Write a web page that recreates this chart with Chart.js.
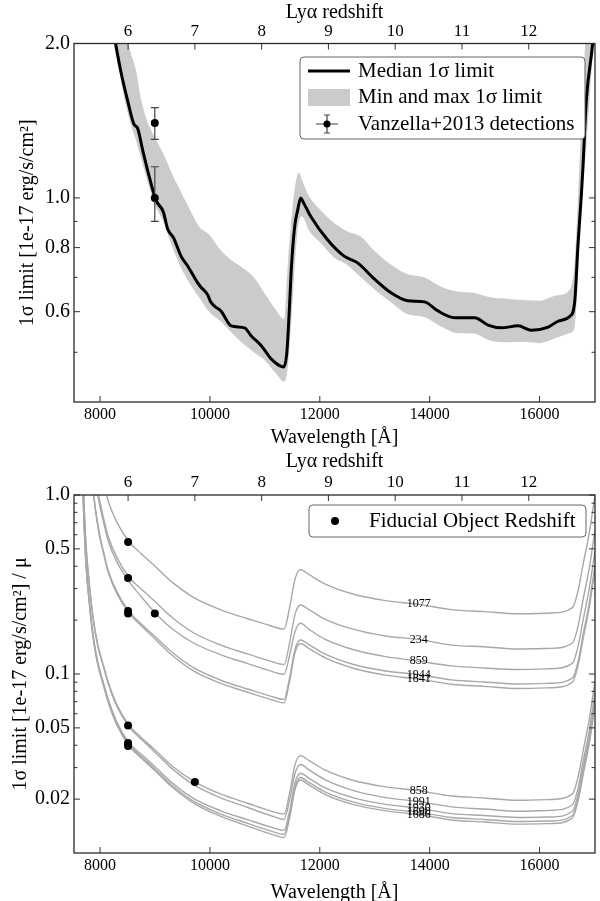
<!DOCTYPE html>
<html>
<head>
<meta charset="utf-8">
<title>Lyα 1σ limits</title>
<script src="https://cdn.jsdelivr.net/npm/chart.js@4.4.1/dist/chart.umd.min.js"></script>
<style>
  html, body { margin: 0; padding: 0; background: #fff; overflow: hidden; }
  .panel { position: absolute; left: 0; width: 600px; }
  #topPanel { top: 0; height: 460px; }
  #botPanel { top: 440px; height: 470px; }
</style>
</head>
<body>
<div class="panel" id="topPanel"><canvas id="limitChart"></canvas></div>
<div class="panel" id="botPanel"><canvas id="lensedChart"></canvas></div>
<script>
const SERIF = '"Liberation Serif", "Times New Roman", serif';
const LYA = 1215.67;
const WAVE_MIN = 7525;
const WAVE_MAX = 17010;
const BAND_COLOR = '#cbcbcb';

// axis ticks
const WAVE_TICKS = [8000, 10000, 12000, 14000, 16000];
const Z_TICKS = [6, 7, 8, 9, 10, 11, 12];
const TOP_Y_TICKS = [0.5, 0.6, 0.7, 0.8, 0.9, 1.0, 2.0];
const TOP_Y_LABELS = ['', '0.6', '', '0.8', '', '1.0', '2.0'];
const BOT_Y_TICKS = [0.02, 0.03, 0.04, 0.05, 0.06, 0.07, 0.08, 0.09, 0.1, 0.2, 0.3, 0.4, 0.5, 0.6, 0.7, 0.8, 0.9, 1.0];
const BOT_Y_LABELS = ['0.02', '', '', '0.05', '', '', '', '', '0.1', '', '', '', '0.5', '', '', '', '', '1.0'];

// top panel: median 1-sigma limit
const MED_WAVE = [8250, 8290, 8380, 8500, 8620, 8680, 8775, 8895, 9017, 9150, 9230, 9340, 9473, 9600, 9777, 9826, 9960, 10010, 10082, 10200,
  10387, 10630, 10752, 10935, 11117, 11250, 11340, 11400, 11450, 11482, 11543, 11600, 11653, 11700, 11836, 12140, 12444, 12688, 12993, 13297,
  13601, 13906, 14149, 14454, 14820, 15064, 15306, 15610, 15854, 16158, 16341, 16554, 16639, 16700, 16761, 16791, 16852, 16968, 17000];
const MED_VAL = [2.10, 1.98, 1.76, 1.55, 1.39, 1.37, 1.24, 1.10, 0.99, 0.94, 0.87, 0.835, 0.77, 0.735, 0.683, 0.672, 0.647, 0.628, 0.615, 0.602,
  0.563, 0.558, 0.538, 0.515, 0.485, 0.472, 0.468, 0.50, 0.62, 0.73, 0.88, 0.95, 1.0, 0.98, 0.92, 0.829, 0.77, 0.747, 0.695, 0.653,
  0.63, 0.627, 0.602, 0.584, 0.584, 0.565, 0.558, 0.563, 0.552, 0.560, 0.575, 0.588, 0.625, 0.81, 1.01, 1.15, 1.55, 2.0, 2.2];

// top panel: min / max band
const BAND_WAVE = [8250, 8350, 8450, 8550, 8650, 8750, 8850, 9000, 9150, 9300, 9450, 9600, 9800, 10000, 10200, 10400, 10600, 10800, 11000, 11200,
  11350, 11420, 11500, 11560, 11620, 11680, 11800, 12000, 12250, 12500, 12750, 13000, 13300, 13600, 13900, 14200, 14500, 14800, 15100, 15400, 15700,
  16000, 16300, 16550, 16640, 16700, 16760, 16820, 16900, 16980];
const BAND_LOW = [1.98, 1.76, 1.55, 1.40, 1.30, 1.19, 1.09, 0.97, 0.90, 0.81, 0.74, 0.69, 0.64, 0.597, 0.574, 0.545, 0.52, 0.50, 0.482, 0.455,
  0.438, 0.47, 0.62, 0.78, 0.90, 0.92, 0.865, 0.82, 0.767, 0.74, 0.70, 0.662, 0.625, 0.593, 0.586, 0.562, 0.545, 0.544, 0.527, 0.523, 0.524,
  0.521, 0.533, 0.545, 0.56, 0.70, 0.95, 1.15, 1.5, 2.0];
const BAND_HIGH = [2.7, 2.4, 2.15, 1.93, 1.78, 1.55, 1.42, 1.31, 1.22, 1.12, 1.04, 0.965, 0.88, 0.845, 0.79, 0.755, 0.73, 0.70, 0.65, 0.605,
  0.58, 0.75, 0.95, 1.07, 1.12, 1.08, 1.01, 0.95, 0.895, 0.86, 0.84, 0.787, 0.741, 0.71, 0.70, 0.672, 0.657, 0.653, 0.64, 0.636, 0.632,
  0.63, 0.645, 0.662, 0.75, 1.0, 1.4, 1.9, 2.6, 3.0];

// Vanzella+2013 detections (redshift, value, error bar ends)
const VANZ_Z = [6.4, 6.4];
const VANZ_VAL = [1.4, 1.0];
const VANZ_HI = [1.5, 1.15];
const VANZ_LO = [1.3, 0.9];

// bottom panel: limit / magnification per object
const BOT_WAVE = [7560, 7620, 7680, 7740, 7800, 7880, 7960, 8050, 8150, 8300, 8530, 8750, 9000, 9300, 9700, 10200, 10700, 11100, 11350, 11450,
  11550, 11650, 11800, 12100, 12600, 13200, 13800, 14400, 15000, 15600, 16200, 16600, 16700, 16800, 16900, 17010];
const LIM_1077 = [60, 30, 15, 8, 4.6, 2.5, 1.65, 1.22, 0.92, 0.71, 0.546, 0.47, 0.40, 0.328, 0.268, 0.228, 0.203, 0.186, 0.178, 0.235,
  0.34, 0.383, 0.36, 0.318, 0.28, 0.257, 0.245, 0.229, 0.223, 0.217, 0.219, 0.235, 0.29, 0.42, 0.60, 1.0];
const LIM_234 = [38, 19, 9.5, 5.1, 2.9, 1.59, 1.05, 0.775, 0.584, 0.451, 0.347, 0.298, 0.254, 0.208, 0.170, 0.145, 0.129, 0.118, 0.113, 0.149,
  0.216, 0.243, 0.229, 0.202, 0.178, 0.163, 0.156, 0.145, 0.142, 0.138, 0.139, 0.149, 0.184, 0.267, 0.381, 0.635];
const LIM_859 = [36, 18, 9, 4.8, 2.76, 1.5, 0.99, 0.732, 0.552, 0.426, 0.328, 0.27, 0.22, 0.180, 0.149, 0.128, 0.114, 0.104, 0.0997, 0.127,
  0.173, 0.192, 0.178, 0.156, 0.137, 0.125, 0.118, 0.111, 0.108, 0.106, 0.107, 0.115, 0.142, 0.205, 0.293, 0.488];
const LIM_1944 = [24, 12.3, 6.2, 3.3, 1.89, 1.03, 0.68, 0.50, 0.377, 0.291, 0.224, 0.19, 0.162, 0.133, 0.1085, 0.0923, 0.0822, 0.0753, 0.0721, 0.0952,
  0.138, 0.155, 0.146, 0.129, 0.1134, 0.104, 0.0992, 0.0927, 0.0903, 0.0879, 0.0887, 0.0952, 0.117, 0.170, 0.243, 0.405];
const LIM_1841 = [23.5, 12, 6.0, 3.2, 1.84, 1.0, 0.66, 0.488, 0.368, 0.284, 0.218, 0.186, 0.157, 0.128, 0.104, 0.0886, 0.0788, 0.0722, 0.069, 0.0912,
  0.132, 0.148, 0.139, 0.123, 0.108, 0.0985, 0.0937, 0.0876, 0.0853, 0.083, 0.0838, 0.090, 0.111, 0.161, 0.230, 0.385];
const LIM_858 = [14, 4.5, 1.5, 0.55, 0.33, 0.20, 0.145, 0.115, 0.09, 0.068, 0.0516, 0.0442, 0.0376, 0.0308, 0.0252, 0.0213, 0.0189, 0.0172, 0.0165, 0.0216,
  0.0313, 0.035, 0.0329, 0.029, 0.0255, 0.0234, 0.0223, 0.0208, 0.0203, 0.0197, 0.0199, 0.0214, 0.0264, 0.0382, 0.0546, 0.091];
const LIM_1991 = [13.7, 4.4, 1.47, 0.54, 0.323, 0.196, 0.142, 0.113, 0.088, 0.0666, 0.0505, 0.0432, 0.0366, 0.0298, 0.0241, 0.0203, 0.0179, 0.0162, 0.0154, 0.0198,
  0.0279, 0.0312, 0.0292, 0.0256, 0.0224, 0.0204, 0.0194, 0.0181, 0.0176, 0.0171, 0.0173, 0.0186, 0.0229, 0.0332, 0.0474, 0.079];
const LIM_1930 = [11.2, 3.6, 1.2, 0.44, 0.264, 0.16, 0.116, 0.092, 0.072, 0.0544, 0.0412, 0.0356, 0.0303, 0.0248, 0.0202, 0.0172, 0.0153, 0.014, 0.0134, 0.0172,
  0.0248, 0.0279, 0.0262, 0.0231, 0.0204, 0.0187, 0.0178, 0.0166, 0.0162, 0.0158, 0.0159, 0.0171, 0.0211, 0.0305, 0.0436, 0.0727];
const LIM_1690 = [10.9, 3.5, 1.17, 0.43, 0.258, 0.156, 0.113, 0.0897, 0.0702, 0.053, 0.0404, 0.0346, 0.0294, 0.024, 0.0195, 0.0165, 0.0146, 0.0133, 0.0127, 0.0163,
  0.0235, 0.0264, 0.0248, 0.0219, 0.0193, 0.0177, 0.0169, 0.0158, 0.0154, 0.015, 0.0151, 0.0162, 0.02, 0.029, 0.0414, 0.069];
const LIM_1686 = [10.8, 3.45, 1.15, 0.42, 0.254, 0.154, 0.112, 0.0885, 0.0693, 0.0523, 0.0396, 0.0339, 0.0288, 0.0235, 0.019, 0.016, 0.0141, 0.0128, 0.0122, 0.0157,
  0.0227, 0.0256, 0.024, 0.0212, 0.0187, 0.0172, 0.0164, 0.0153, 0.0149, 0.0145, 0.0146, 0.0157, 0.0194, 0.028, 0.04, 0.0668];
const CURVE_NAMES = ['1077', '234', '859', '1944', '1841', '858', '1991', '1930', '1690', '1686'];
const LABEL_WAVE = 13800;

// fiducial object redshifts, one per curve
const FID_Z = [6, 6, 6.4, 6, 6, 6, 7, 6, 6, 6];
const FID_VAL = [0.546, 0.344, 0.218, 0.225, 0.218, 0.0516, 0.0249, 0.0412, 0.0404, 0.0396];

const CURVES = [LIM_1077, LIM_234, LIM_859, LIM_1944, LIM_1841, LIM_858, LIM_1991, LIM_1930, LIM_1690, LIM_1686]
  .map((values, i) => ({ name: CURVE_NAMES[i], values }));

const toPoints = (xs, ys) => xs.map((x, i) => ({ x, y: ys[i] }));

Chart.defaults.font.family = SERIF;
Chart.defaults.color = '#000';

// matplotlib-like frame: box plus inward ticks on all four sides
const frameTicks = {
  id: 'frameTicks',
  afterDatasetsDraw(chart) {
    const { ctx, chartArea: a, scales } = chart;
    ctx.save();
    ctx.strokeStyle = '#333';
    ctx.lineWidth = 1;
    ctx.beginPath();
    scales.x.ticks.forEach((t) => {
      const p = scales.x.getPixelForValue(t.value);
      ctx.moveTo(p, a.bottom); ctx.lineTo(p, a.bottom - 6);
    });
    scales.z.ticks.forEach((t) => {
      const p = scales.z.getPixelForValue(t.value);
      ctx.moveTo(p, a.top); ctx.lineTo(p, a.top + 6);
    });
    scales.y.ticks.forEach((t) => {
      const p = scales.y.getPixelForValue(t.value);
      const len = t.label ? 6 : 3.5;
      ctx.moveTo(a.left, p); ctx.lineTo(a.left + len, p);
      ctx.moveTo(a.right, p); ctx.lineTo(a.right - len, p);
    });
    ctx.stroke();
    ctx.strokeStyle = '#2a2a2a';
    ctx.lineWidth = 1.3;
    ctx.strokeRect(a.left, a.top, a.right - a.left, a.bottom - a.top);
    ctx.restore();
  }
};

// error bars drawn right after the median line, so the dots land on top
const vanzellaErrors = {
  id: 'vanzellaErrors',
  afterDatasetDraw(chart, args) {
    if (args.index !== 1) return;
    const { ctx, scales: { z, y } } = chart;
    ctx.save();
    ctx.strokeStyle = '#444';
    ctx.lineWidth = 1.2;
    ctx.beginPath();
    VANZ_Z.forEach((zz, i) => {
      const px = z.getPixelForValue(zz);
      const hi = y.getPixelForValue(VANZ_HI[i]);
      const lo = y.getPixelForValue(VANZ_LO[i]);
      ctx.moveTo(px, hi); ctx.lineTo(px, lo);
      ctx.moveTo(px - 4, hi); ctx.lineTo(px + 4, hi);
      ctx.moveTo(px - 4, lo); ctx.lineTo(px + 4, lo);
    });
    ctx.stroke();
    ctx.restore();
  }
};

const limitLegend = {
  id: 'limitLegend',
  afterDraw(chart) {
    const { ctx, chartArea: a } = chart;
    const bx = a.right - 295, by = a.top + 13.5, bw = 285, bh = 82;
    ctx.save();
    ctx.fillStyle = '#fff';
    ctx.strokeStyle = '#666';
    ctx.lineWidth = 1;
    ctx.beginPath(); ctx.roundRect(bx, by, bw, bh, 4); ctx.fill(); ctx.stroke();
    ctx.strokeStyle = '#000'; ctx.lineWidth = 3;
    ctx.beginPath(); ctx.moveTo(bx + 8, by + 14); ctx.lineTo(bx + 50, by + 14); ctx.stroke();
    ctx.fillStyle = BAND_COLOR;
    ctx.fillRect(bx + 8, by + 32, 42, 17);
    const ex = bx + 27, ey = by + 67;
    ctx.strokeStyle = '#444'; ctx.lineWidth = 1.2;
    ctx.beginPath();
    ctx.moveTo(ex - 11, ey); ctx.lineTo(ex + 11, ey);
    ctx.moveTo(ex, ey - 9); ctx.lineTo(ex, ey + 9);
    ctx.moveTo(ex - 3, ey - 9); ctx.lineTo(ex + 3, ey - 9);
    ctx.moveTo(ex - 3, ey + 9); ctx.lineTo(ex + 3, ey + 9);
    ctx.stroke();
    ctx.fillStyle = '#000';
    ctx.beginPath(); ctx.arc(ex, ey, 3.5, 0, Math.PI * 2); ctx.fill();
    ctx.font = `21px ${SERIF}`;
    ctx.textBaseline = 'middle';
    ['Median 1σ limit', 'Min and max 1σ limit', 'Vanzella+2013 detections']
      .forEach((t, i) => ctx.fillText(t, bx + 58, by + 14 + i * 26.5));
    ctx.restore();
  }
};

const fiducialLegend = {
  id: 'fiducialLegend',
  afterDraw(chart) {
    const { ctx, chartArea: a } = chart;
    const bx = a.right - 286, by = a.top + 10, bw = 277, bh = 32;
    ctx.save();
    ctx.fillStyle = '#fff';
    ctx.strokeStyle = '#666';
    ctx.lineWidth = 1;
    ctx.beginPath(); ctx.roundRect(bx, by, bw, bh, 4); ctx.fill(); ctx.stroke();
    ctx.fillStyle = '#000';
    ctx.beginPath(); ctx.arc(bx + 26, by + 16, 4, 0, Math.PI * 2); ctx.fill();
    ctx.font = `21px ${SERIF}`;
    ctx.textBaseline = 'middle';
    ctx.fillText('Fiducial Object Redshift', bx + 60, by + 16);
    ctx.restore();
  }
};

const curveLabels = {
  id: 'curveLabels',
  afterDatasetsDraw(chart) {
    const { ctx, scales: { x, y } } = chart;
    const idx = BOT_WAVE.indexOf(LABEL_WAVE);
    ctx.save();
    ctx.font = `12px ${SERIF}`;
    ctx.fillStyle = '#000';
    ctx.textAlign = 'center';
    ctx.textBaseline = 'middle';
    CURVES.forEach((c) => ctx.fillText(c.name, x.getPixelForValue(LABEL_WAVE), y.getPixelForValue(c.values[idx])));
    ctx.restore();
  }
};

function panelScales({ yMin, yMax, yTicks, yLabels, yTitle, yTitlePad, topH, topTitlePad, bottomH, bottomTitlePad }) {
  const noGrid = { display: false, drawTicks: false };
  return {
    x: {
      type: 'linear', position: 'bottom', min: WAVE_MIN, max: WAVE_MAX,
      grid: noGrid, border: { display: false },
      afterBuildTicks: (s) => { s.ticks = WAVE_TICKS.map((v) => ({ value: v })); },
      afterFit: (s) => { s.height = bottomH; },
      ticks: { autoSkip: false, maxRotation: 0, padding: 3, font: { size: 16 }, callback: (v) => String(v) },
      title: { display: true, text: 'Wavelength [Å]', font: { size: 20 }, padding: { top: 0, bottom: bottomTitlePad } }
    },
    z: {
      type: 'linear', position: 'top', min: WAVE_MIN / LYA - 1, max: WAVE_MAX / LYA - 1,
      grid: noGrid, border: { display: false },
      afterBuildTicks: (s) => { s.ticks = Z_TICKS.map((v) => ({ value: v })); },
      afterFit: (s) => { s.height = topH; },
      ticks: { autoSkip: false, maxRotation: 0, padding: 2, font: { size: 17 }, callback: (v) => String(v) },
      title: { display: true, text: 'Lyα redshift', font: { size: 20 }, padding: { top: topTitlePad, bottom: 0 } }
    },
    y: {
      type: 'logarithmic', position: 'left', min: yMin, max: yMax,
      grid: noGrid, border: { display: false },
      afterBuildTicks: (s) => { s.ticks = yTicks.map((v) => ({ value: v })); },
      afterFit: (s) => { s.width = 74; },
      ticks: { autoSkip: false, padding: 4, font: { size: 20 }, callback: (v, i) => yLabels[i] },
      title: { display: true, text: yTitle, font: { size: 20 }, padding: { top: yTitlePad, bottom: 0 } }
    }
  };
}

const baseOptions = {
  responsive: true,
  maintainAspectRatio: false,
  animation: false,
  events: [],
  layout: { autoPadding: false, padding: { left: 0, right: 5, top: 0, bottom: 0 } },
  plugins: { legend: { display: false }, tooltip: { enabled: false } }
};

function renderLimitChart(canvasId) {
  const ctx = document.getElementById(canvasId).getContext('2d');
  return new Chart(ctx, {
    type: 'line',
    data: {
      datasets: [
        { data: toPoints(VANZ_Z, VANZ_VAL), xAxisID: 'z', yAxisID: 'y', showLine: false, pointRadius: 4, pointBackgroundColor: '#000', pointBorderWidth: 0 },
        { data: toPoints(MED_WAVE, MED_VAL), xAxisID: 'x', yAxisID: 'y', borderColor: '#000', borderWidth: 3, pointRadius: 0, cubicInterpolationMode: 'monotone' },
        { data: toPoints(BAND_WAVE, BAND_HIGH), xAxisID: 'x', yAxisID: 'y', borderColor: 'rgba(0,0,0,0)', borderWidth: 0, pointRadius: 0, fill: '+1', backgroundColor: BAND_COLOR, cubicInterpolationMode: 'monotone' },
        { data: toPoints(BAND_WAVE, BAND_LOW), xAxisID: 'x', yAxisID: 'y', borderColor: 'rgba(0,0,0,0)', borderWidth: 0, pointRadius: 0, fill: false, cubicInterpolationMode: 'monotone' }
      ]
    },
    options: {
      ...baseOptions,
      scales: panelScales({
        yMin: 0.4, yMax: 2.0, yTicks: TOP_Y_TICKS, yLabels: TOP_Y_LABELS,
        yTitle: '1σ limit [1e-17 erg/s/cm²]', yTitlePad: 16,
        topH: 43.5, topTitlePad: 1, bottomH: 58, bottomTitlePad: 10
      })
    },
    plugins: [vanzellaErrors, frameTicks, limitLegend]
  });
}

function renderLensedChart(canvasId) {
  const ctx = document.getElementById(canvasId).getContext('2d');
  return new Chart(ctx, {
    type: 'line',
    data: {
      datasets: [
        { data: toPoints(FID_Z, FID_VAL), xAxisID: 'z', yAxisID: 'y', showLine: false, pointRadius: 4, pointBackgroundColor: '#000', pointBorderWidth: 0 },
        ...CURVES.map((c) => ({
          data: toPoints(BOT_WAVE, c.values), xAxisID: 'x', yAxisID: 'y',
          borderColor: '#a8a8a8', borderWidth: 1.4, pointRadius: 0, cubicInterpolationMode: 'monotone'
        }))
      ]
    },
    options: {
      ...baseOptions,
      scales: panelScales({
        yMin: 0.01, yMax: 1.0, yTicks: BOT_Y_TICKS, yLabels: BOT_Y_LABELS,
        yTitle: '1σ limit [1e-17 erg/s/cm²] / μ', yTitlePad: 9,
        topH: 55, topTitlePad: 10, bottomH: 57, bottomTitlePad: 5
      })
    },
    plugins: [frameTicks, curveLabels, fiducialLegend]
  });
}

renderLimitChart('limitChart');
renderLensedChart('lensedChart');
</script>
</body>
</html>
